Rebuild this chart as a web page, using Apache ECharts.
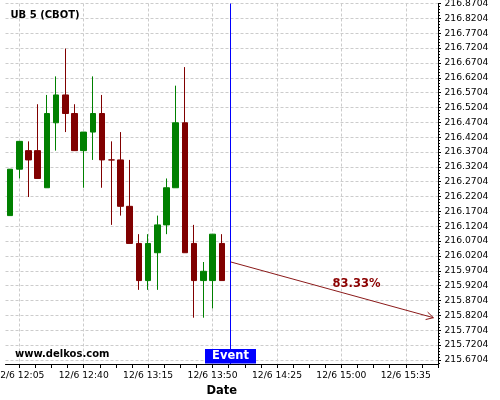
<!DOCTYPE html>
<html><head><meta charset="utf-8">
<script src="https://cdn.jsdelivr.net/npm/echarts@6/dist/echarts.min.js"></script>
<style>html,body{margin:0;padding:0;background:#fff}#c{width:500px;height:400px}</style>
</head><body><div id="c"></div>
<script>
// ---- data ----
const titleText = 'UB 5 (CBOT)';
const watermark = 'www.delkos.com';
const dateLabel = '12/6';
const times = ['12:00','12:05','12:10','12:15','12:20','12:25','12:30','12:35','12:40','12:45','12:50','12:55',
               '13:00','13:05','13:10','13:15','13:20','13:25','13:30','13:35','13:40','13:45','13:50','13:55'];
const open  = [216.15625,216.3125,216.375,216.375,216.25,216.46875,216.5625,216.5,216.375,216.4375,216.5,216.34375,
               216.34375,216.1875,216.0625,215.9375,216.03125,216.125,216.25,216.46875,216.0625,215.9375,215.9375,216.0625];
const close = [216.3125,216.40625,216.34375,216.28125,216.5,216.5625,216.5,216.375,216.4375,216.5,216.34375,216.34375,
               216.1875,216.0625,215.9375,216.0625,216.125,216.25,216.46875,216.03125,215.9375,215.96875,216.09375,215.9375];
const low   = [216.15625,216.28125,216.21875,216.28125,216.25,216.375,216.4375,216.375,216.25,216.34375,216.25,216.125,
               216.15625,216.0625,215.90625,215.90625,215.90625,216.09375,216.25,216.03125,215.8125,215.8125,215.84375,215.9375];
const high  = [216.3125,216.40625,216.40625,216.53125,216.5625,216.625,216.71875,216.53125,216.4375,216.625,216.5625,216.40625,
               216.4375,216.34375,216.09375,216.09375,216.15625,216.28125,216.59375,216.65625,216.125,216.0,216.09375,216.09375];
const xTickTimes = ['12:05','12:40','13:15','13:50','14:25','15:00','15:35'];
const yTickValues = [215.6704,215.7204,215.7704,215.8204,215.8704,215.9204,215.9704,216.0204,216.0704,216.1204,
                     216.1704,216.2204,216.2704,216.3204,216.3704,216.4204,216.4704,216.5204,216.5704,216.6204,
                     216.6704,216.7204,216.7704,216.8204,216.8704];
const eventTime = '14:00';
const eventText = 'Event';
const eventPrice = 216.0;
const targetTime = '15:50';
const targetPrice = 215.8125;
const probabilityText = '83.33%';

// ---- helpers ----
function toMin(t){ const p=t.split(':'); return (+p[0]-12)*60 + (+p[1]); }
function fromMin(m){ const h=12+Math.floor(m/60), mm=Math.round(m-Math.floor(m/60)*60); return h+':'+(mm<10?'0':'')+mm; }

// time slots of the category axis: 5-minute bars from first bar up to the target time
const slots = [];
for (let m = toMin(times[0]); m <= toMin(targetTime); m += 5) slots.push(fromMin(m));

const X_MIN = toMin(times[0]) - 2.5, X_MAX = toMin(targetTime) + 2.5;
const Y_MIN = 215.6566, Y_MAX = 216.8704;
const xMajor = xTickTimes.map(toMin);
const xMinor = [];
for (let m = xMajor[0]; m <= X_MAX + 1e-9; m += (xMajor[1]-xMajor[0])/4) xMinor.push(+m.toFixed(4));
const yMinor = [];
for (let i = 0; ; i++) { const v = Math.round((215.6604 + i*0.01)*10000)/10000; if (v > Y_MAX + 1e-9) break; yMinor.push(v); }

const candleData = times.map((t,i)=>[open[i], close[i], low[i], high[i]]);

const FONT = 'DejaVu Sans';
const chart = echarts.init(document.getElementById('c'), null, {renderer:'canvas'});
chart.setOption({
  animation: false,
  backgroundColor: '#fff',
  grid: {left: 5.5, right: 62, top: 3.5, bottom: 36, containLabel: false, outerBoundsMode: 'none'},
  graphic: [
    {type:'text', left: 10.5, top: 10.5, z: 100, style:{text: titleText, font: 'bold 10px "'+FONT+'"', fill:'#000'}},
    {type:'text', left: 15, top: 349, z: 100, style:{text: watermark, font: 'bold 10px "'+FONT+'"', fill:'#000'}}
  ],
  xAxis: [{
    type: 'category', data: slots, boundaryGap: true, position: 'bottom',
    axisLine: {show: false}, axisTick: {show: false}, axisLabel: {show: false}, splitLine: {show: false}
  },{
    type: 'value', min: X_MIN, max: X_MAX, position: 'bottom',
    name: 'Date', nameLocation: 'middle', nameGap: 19,
    nameTextStyle: {fontFamily: FONT, fontWeight: 'bold', fontSize: 11.5, color: '#000'},
    axisLine: {show: true, onZero: false, lineStyle: {color: '#000', width: 1}},
    axisTick: {show: false, customValues: xMajor},
    axisLabel: {show: true, customValues: xMajor, margin: 7, fontFamily: FONT, fontSize: 9.2, color: '#000',
                formatter: v => dateLabel + ' ' + fromMin(v), hideOverlap: false},
    splitLine: {show: true, lineStyle: {color: '#cccccc', type: [3,2], width: 1}}
  },{
    type: 'value', min: X_MIN, max: X_MAX, position: 'bottom',
    axisLine: {show: false, onZero: false},
    axisTick: {show: true, customValues: xMinor, length: 4, lineStyle: {color: '#000', width: 1}},
    axisLabel: {show: false},
    splitLine: {show: false}
  }],
  yAxis: [{
    type: 'value', min: Y_MIN, max: Y_MAX, position: 'right', scale: true,
    axisLine: {show: true, onZero: false, lineStyle: {color: '#000', width: 1}},
    axisTick: {show: true, customValues: yTickValues, length: 3, lineStyle: {color: '#000'}},
    axisLabel: {show: true, customValues: yTickValues, margin: 6.5, fontFamily: FONT, fontSize: 9.2, color: '#000',
                formatter: v => v.toFixed(4), hideOverlap: false},
    splitLine: {show: true, lineStyle: {color: '#cccccc', type: [3,2], width: 1}}
  },{
    type: 'value', min: Y_MIN, max: Y_MAX, position: 'right', scale: true,
    axisLine: {show: false, onZero: false},
    axisTick: {show: true, customValues: yMinor, length: 2, lineStyle: {color: '#000'}},
    axisLabel: {show: false},
    splitLine: {show: false}
  }],
  series: [{
    type: 'candlestick', xAxisIndex: 0, yAxisIndex: 0,
    data: candleData,
    barWidth: 6,
    itemStyle: {color: '#008000', color0: '#800000', borderColor: '#008000', borderColor0: '#800000',
                borderColorDoji: '#800000', borderWidth: 1}
  },{
    type: 'custom', xAxisIndex: 1, yAxisIndex: 0, z: 5,
    data: [[toMin(eventTime)]],
    renderItem: function(params, api){
      const cs = params.coordSys;
      const x = Math.round(api.coord([api.value(0), Y_MAX])[0]) - 0.5;
      const bw = 51, bh = 14.5;
      return {type:'group', children:[
        {type:'line', shape:{x1:x, y1:cs.y, x2:x, y2:cs.y+cs.height}, style:{stroke:'#0000ff', lineWidth:1}},
        {type:'rect', shape:{x:x-bw/2, y:cs.y+cs.height-bh-0.5, width:bw, height:bh}, style:{fill:'#0000ff'}},
        {type:'text', style:{text:eventText, x:x, y:cs.y+cs.height-bh/2-0.5, align:'center', verticalAlign:'middle',
           font:'bold 11.5px "'+FONT+'"', fill:'#fff'}}
      ]};
    }
  },{
    type: 'custom', xAxisIndex: 1, yAxisIndex: 0, z: 6,
    data: [[toMin(eventTime), eventPrice, toMin(targetTime), targetPrice]],
    renderItem: function(params, api){
      const p0 = api.coord([api.value(0), api.value(1)]);
      const p1 = api.coord([api.value(2), api.value(3)]);
      const ang = Math.atan2(p1[1]-p0[1], p1[0]-p0[0]);
      const L = 8, a = 0.5;
      const h1 = [p1[0]-L*Math.cos(ang-a), p1[1]-L*Math.sin(ang-a)];
      const h2 = [p1[0]-L*Math.cos(ang+a), p1[1]-L*Math.sin(ang+a)];
      const t = 0.62;
      const mx = p0[0]+(p1[0]-p0[0])*t, my = p0[1]+(p1[1]-p0[1])*t;
      return {type:'group', children:[
        {type:'line', shape:{x1:p0[0], y1:p0[1], x2:p1[0], y2:p1[1]}, style:{stroke:'#8b1a1a', lineWidth:1}},
        {type:'polyline', shape:{points:[h1, p1, h2]}, style:{stroke:'#8b1a1a', fill:null, lineWidth:1}},
        {type:'text', style:{text:probabilityText, x:mx, y:my-13, align:'center', verticalAlign:'middle',
           font:'bold 11.5px "'+FONT+'"', fill:'#8b0000'}}
      ]};
    }
  }]
});
</script></body></html>
